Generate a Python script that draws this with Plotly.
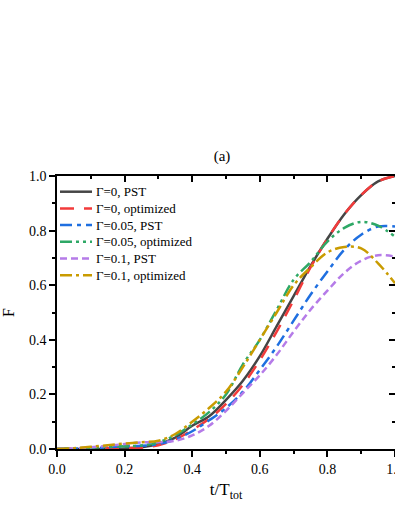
import plotly.graph_objects as go

t = [0.0, 0.05, 0.1, 0.15, 0.2, 0.25, 0.3, 0.35, 0.4, 0.45, 0.5,
     0.55, 0.6, 0.65, 0.7, 0.75, 0.8, 0.85, 0.9, 0.95, 1.0]

pst_g0 = [0.0, 0.0, 0.0, 0.001, 0.002, 0.006, 0.018, 0.042, 0.085, 0.12, 0.18,
          0.25, 0.34, 0.45, 0.56, 0.67, 0.77, 0.86, 0.93, 0.98, 1.0]
opt_g0 = [0.0, 0.001, 0.002, 0.003, 0.004, 0.005, 0.014, 0.035, 0.07, 0.11, 0.165,
          0.235, 0.325, 0.43, 0.545, 0.665, 0.77, 0.86, 0.93, 0.98, 1.0]
pst_g005 = [0.0, 0.001, 0.003, 0.006, 0.01, 0.012, 0.018, 0.035, 0.065, 0.105, 0.15,
            0.21, 0.29, 0.375, 0.47, 0.565, 0.65, 0.73, 0.785, 0.815, 0.815]
opt_g005 = [0.0, 0.002, 0.005, 0.008, 0.01, 0.013, 0.025, 0.05, 0.09, 0.135, 0.2,
            0.31, 0.40, 0.51, 0.62, 0.685, 0.76, 0.81, 0.832, 0.818, 0.778]
pst_g01 = [0.0, 0.002, 0.006, 0.012, 0.018, 0.024, 0.025, 0.03, 0.05, 0.085, 0.14,
           0.205, 0.27, 0.345, 0.43, 0.51, 0.58, 0.645, 0.69, 0.71, 0.705]
opt_g01 = [0.0, 0.003, 0.008, 0.014, 0.02, 0.025, 0.03, 0.055, 0.1, 0.15, 0.21,
           0.30, 0.40, 0.50, 0.60, 0.665, 0.72, 0.74, 0.735, 0.68, 0.607]

names = ["Γ=0, PST", "Γ=0, optimized", "Γ=0.05, PST",
         "Γ=0.05, optimized", "Γ=0.1, PST", "Γ=0.1, optimized"]
values = [pst_g0, opt_g0, pst_g005, opt_g005, pst_g01, opt_g01]
colors = ["#454545", "#f23b3b", "#1f6fe0", "#2ea866", "#b57be8", "#c99b00"]
dashes = ["solid", "14px,10px", "12px,5px,4px,5px", "12px,4px,3px,4px,3px,4px",
          "7px,4px", "12px,4px,3px,4px"]

font = "Liberation Serif"
W, H = 395, 511
L, R, T, B = 57, 0, 176, 62
pw, ph = W - L - R, H - T - B

fig = go.Figure()
for name, y, color, dash in zip(names, values, colors, dashes):
    fig.add_trace(go.Scatter(x=t, y=y, name=name, mode="lines", showlegend=False,
                             line=dict(color=color, width=2.5, dash=dash, shape="spline")))

# legend drawn by hand so the rows sit as tight as the original
row0, row_gap = 191.7, 16.7
for i, (name, color, dash) in enumerate(zip(names, colors, dashes)):
    yy = 1 - (row0 + i * row_gap - T) / ph
    fig.add_shape(type="line", xref="paper", yref="paper",
                  x0=(60 - L) / pw, x1=(92 - L) / pw, y0=yy, y1=yy,
                  line=dict(color=color, width=2.5, dash=dash))
    fig.add_annotation(xref="paper", yref="paper", x=(94 - L) / pw, y=yy,
                       xanchor="left", yanchor="middle", showarrow=False, text=name,
                       font=dict(family=font, size=13, color="black"))

# top / right axes carry the inward ticks
fig.add_trace(go.Scatter(x=[0], y=[0], xaxis="x2", yaxis="y2", mode="markers",
                         marker=dict(opacity=0), showlegend=False, hoverinfo="skip"))

ticks = [0, 0.2, 0.4, 0.6, 0.8, 1.0]
fig.update_layout(
    width=W, height=H,
    margin=dict(l=L, r=R, t=T, b=B, autoexpand=False),
    plot_bgcolor="white", paper_bgcolor="white",
    font=dict(family=font, size=14, color="black"),
    title=dict(text="(a)", x=(222 / W), xanchor="center", y=1 - 156 / H, yanchor="middle",
               font=dict(family=font, size=15, color="black")),
    showlegend=False,
    xaxis=dict(range=[0, 1], tickvals=ticks,
               ticktext=["0.0", "0.2", "0.4", "0.6", "0.8", "1.0"],
               ticklabeloverflow="allow",
               ticks="outside", ticklen=6, tickwidth=1.5, tickcolor="black",
               minor=dict(dtick=0.1, ticks="outside", ticklen=3, tickwidth=1.5, tickcolor="black"),
               showline=True, linecolor="black", linewidth=1.5, mirror=True,
               showgrid=False, zeroline=False, automargin=False,
               tickfont=dict(family=font, size=14),
               title=dict(text="t/T<sub>tot</sub>", font=dict(family=font, size=17), standoff=8)),
    yaxis=dict(range=[0, 1], tickvals=ticks, tickformat=".1f",
               ticks="outside", ticklen=6, tickwidth=1.5, tickcolor="black",
               minor=dict(dtick=0.1, ticks="outside", ticklen=3, tickwidth=1.5, tickcolor="black"),
               showline=True, linecolor="black", linewidth=1.5, mirror=True,
               showgrid=False, zeroline=False, automargin=False,
               tickfont=dict(family=font, size=14),
               title=dict(text="F", font=dict(family=font, size=16), standoff=16)),
    xaxis2=dict(overlaying="x", side="top", range=[0, 1], tickvals=ticks,
                ticks="inside", ticklen=6, tickwidth=1.5, tickcolor="black",
                minor=dict(dtick=0.1, ticks="inside", ticklen=3, tickwidth=1.5, tickcolor="black"),
                showticklabels=False, showgrid=False, zeroline=False, showline=False,
                automargin=False),
    yaxis2=dict(overlaying="y", side="right", range=[0, 1], tickvals=ticks,
                ticks="inside", ticklen=6, tickwidth=1.5, tickcolor="black",
                minor=dict(dtick=0.1, ticks="inside", ticklen=3, tickwidth=1.5, tickcolor="black"),
                showticklabels=False, showgrid=False, zeroline=False, showline=False,
                automargin=False),
)

# drop the page's default 8px body margin so the figure fills the window
fig.write_html("out.html", config={"displayModeBar": False},
               post_script="document.body.style.margin='0';document.body.style.overflow='hidden';")
